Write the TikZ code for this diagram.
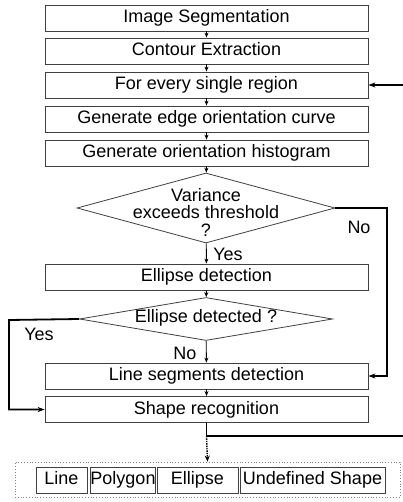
\documentclass[tikz,border=0pt]{standalone}
\usepackage{fontspec}
\setmainfont{Liberation Sans}
\usetikzlibrary{arrows.meta}
\usetikzlibrary{shapes.geometric}

\begin{document}
\begin{tikzpicture}[x=1pt,y=-1pt,
        block/.style = {draw=black!75, rectangle, line width=0.8pt, minimum width=323, minimum height=26, inner sep=0pt, text height=13, text depth=4, font=\fontsize{18}{18}\selectfont},
        small/.style = {draw=black!75, rectangle, line width=0.7pt, minimum height=26, inner sep=0pt, text height=13, text depth=4, font=\fontsize{18}{18}\selectfont},
        choice/.style = {draw=black!75, diamond, line width=0.8pt, inner sep=0pt},
        tag/.style = {inner sep=0pt, align=center, font=\fontsize{18}{17.5}\selectfont},
        lines/.style = {line width=0.9pt, -{Stealth[length=5pt, width=4pt]}},
        loop/.style = {line width=1.8pt, -{Stealth[length=7pt, width=5pt]}}]
        \useasboundingbox (0,0) rectangle (403,502);

        % main chain
        \node[block] (1) at (206.5,18) {Image Segmentation};
        \node[block] (2) at (206.5,51) {Contour Extraction};
        \node[block] (3) at (206.5,85) {For every single region};
        \node[block] (4) at (206.5,119) {Generate edge orientation curve};
        \node[block] (5) at (206.5,153) {Generate orientation histogram};

        \node[choice, minimum width=258, minimum height=70] (V) at (206,208) {};
        \node[tag] (Vt) at (206,212) {Variance\\exceeds threshold\\?};

        \node[block] (E) at (206.5,277) {Ellipse detection};

        \node[choice, minimum width=253, minimum height=43] (D) at (206,319) {};
        \node[tag] (Dt) at (206,318) {Ellipse detected ?};

        \node[block] (L) at (206.5,376) {Line segments detection};
        \node[block] (S) at (206.5,409.5) {Shape recognition};

        % answers
        \node[tag] (y1) at (228,254) {Yes};
        \node[tag] (n1) at (359,227) {No};
        \node[tag] (y2) at (39,334) {Yes};
        \node[tag] (n2) at (185,353) {No};

        \draw[lines] (1) -- (2);
        \draw[lines] (2) -- (3);
        \draw[lines] (3) -- (4);
        \draw[lines] (4) -- (5);
        \draw[lines] (5) -- (V);
        \draw[lines] (V) -- (E);
        \draw[lines] (E) -- (D);
        \draw[lines] (D) -- (L);
        \draw[lines] (L) -- (S);

        \draw[loop] (V.east) -- (387,208) |- (L.east);
        \draw[loop] (D.west) -- (9,320) |- (S.west);

        % back to the next region
        \coordinate (out) at (403,436);
        \coordinate (in) at (403,85);
        \coordinate (split) at (206.5,436);
        \draw[line width=1.8pt] (S.south) -- (split) -- (out);
        \draw[loop] (in) -- (3.east);

        % results
        \node[draw=black!50, dotted, line width=0.8pt, minimum width=385, minimum height=35, inner sep=0pt] (R) at (207.5,479.5) {};
        \node[small, minimum width=51] (r1) at (61.5,480) {Line};
        \node[small, minimum width=60] (r2) at (123,480) {Polygon};
        \node[small, minimum width=81] (r3) at (197.5,480) {Ellipse};
        \node[small, minimum width=145] (r4) at (312.5,480) {Undefined Shape};
        \draw[line width=1.4pt, densely dotted, -{Stealth[length=6pt, width=5pt]}] (split) -- (R.north);

    \end{tikzpicture}
\end{document}
